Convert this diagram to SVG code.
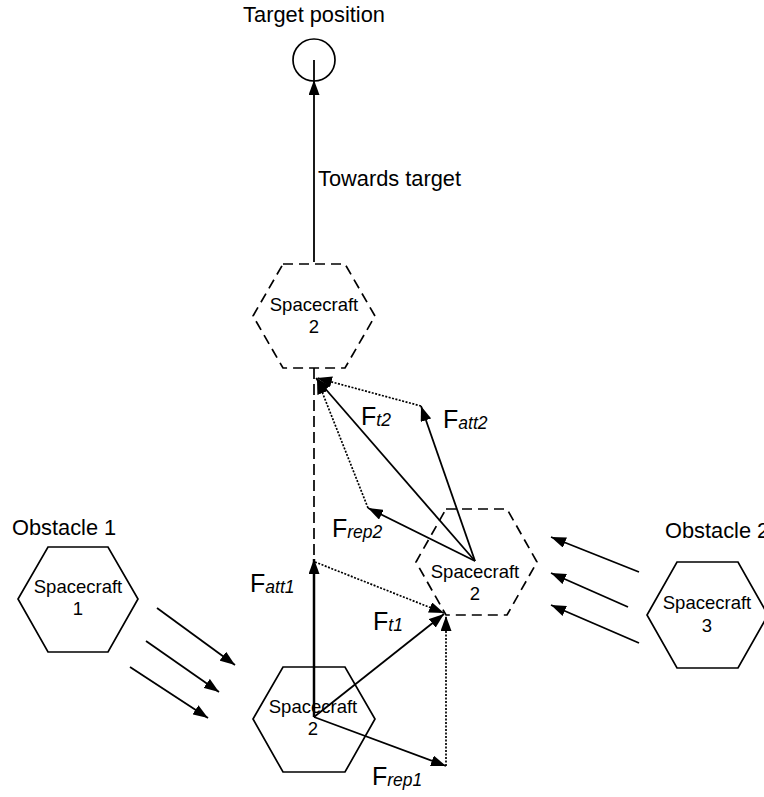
<svg xmlns="http://www.w3.org/2000/svg" width="764" height="797" viewBox="0 0 764 797">
<style>
text{font-family:"Liberation Sans",Arial,sans-serif;fill:#000}
.lbl{font-size:21.8px}
.sc{font-size:18.5px;text-anchor:middle}
.f{font-size:25px}
.sub{font-size:17.5px;font-style:italic}
.hex{fill:none;stroke:#000;stroke-width:1.7}
.dash{stroke-dasharray:10,6}
.ln{fill:none;stroke:#000;stroke-width:1.8}
.thick{stroke-width:2.5}
.dot{fill:none;stroke:#000;stroke-width:1.7;stroke-dasharray:2,1.5}
.vd{fill:none;stroke:#000;stroke-width:1.7;stroke-dasharray:11,5}
</style>
<defs>
<marker id="ah" markerUnits="userSpaceOnUse" markerWidth="16" markerHeight="11" refX="15" refY="5.5" orient="auto">
<path d="M0,0 L15,5.5 L0,11 z" fill="#000"/>
</marker>
</defs>
<rect width="764" height="797" fill="#fff"/>

<g id="target">
<circle cx="314" cy="60" r="21" fill="none" stroke="#000" stroke-width="1.7"/>
<text class="lbl" x="314" y="22" text-anchor="middle">Target position</text>
</g>

<g id="spacecraft2-top">
<polygon class="hex dash" points="283,264 345,264 375,316 345,368 283,368 253,316"/>
<text class="sc" x="314" y="311">Spacecraft</text>
<text class="sc" x="314" y="333">2</text>
</g>

<g id="spacecraft2-mid">
<polygon class="hex dash" points="446,509 507,509 537,562 507,615 446,615 416,562"/>
<text class="sc" x="475" y="578">Spacecraft</text>
<text class="sc" x="475" y="600">2</text>
</g>

<g id="spacecraft2-bottom">
<polygon class="hex" points="283,667 345,667 375,719 345,772 283,772 253,719"/>
<text class="sc" x="313" y="713">Spacecraft</text>
<text class="sc" x="313" y="735">2</text>
</g>

<g id="obstacle1">
<text class="lbl" x="12" y="535">Obstacle 1</text>
<polygon class="hex" points="48,547 108,547 138,599 108,652 48,652 18,599"/>
<text class="sc" x="78" y="593">Spacecraft</text>
<text class="sc" x="78" y="615">1</text>
</g>

<g id="obstacle2">
<text class="lbl" x="665" y="538">Obstacle 2</text>
<polygon class="hex" points="677,562 738,562 768,615 738,668 677,668 647,615"/>
<text class="sc" x="707" y="609">Spacecraft</text>
<text class="sc" x="707" y="632">3</text>
</g>

<g id="connectors">
<!-- towards target -->
<line class="ln" x1="314" y1="80" x2="314" y2="60"/>
<line class="ln" x1="314" y1="262" x2="314" y2="80" marker-end="url(#ah)"/>
<text class="lbl" x="318" y="186">Towards target</text>
<!-- dashed path -->
<line class="vd" x1="314" y1="368" x2="314" y2="560"/>
<!-- first step -->
<line class="ln thick" x1="314" y1="717" x2="314" y2="559" marker-end="url(#ah)"/>
<line class="ln" x1="314" y1="717" x2="444" y2="614" marker-end="url(#ah)"/>
<line class="ln" x1="314" y1="717" x2="446" y2="766" marker-end="url(#ah)"/>
<line class="dot" x1="315" y1="562" x2="444" y2="613" marker-end="url(#ah)"/>
<line class="dot" x1="446" y1="766" x2="446" y2="616" marker-end="url(#ah)"/>
<!-- second step -->
<line class="ln" x1="475" y1="561" x2="316" y2="378" marker-end="url(#ah)"/>
<line class="ln" x1="475" y1="561" x2="421" y2="406" marker-end="url(#ah)"/>
<line class="ln" x1="475" y1="561" x2="368" y2="508" marker-end="url(#ah)"/>
<line class="dot" x1="421" y1="406" x2="317" y2="378" marker-end="url(#ah)"/>
<line class="dot" x1="368" y1="508" x2="317" y2="379" marker-end="url(#ah)"/>
<!-- obstacle 1 repulsion -->
<line class="ln" x1="157" y1="608" x2="235" y2="665" marker-end="url(#ah)"/>
<line class="ln" x1="146" y1="641" x2="219" y2="692" marker-end="url(#ah)"/>
<line class="ln" x1="130" y1="667" x2="208" y2="718" marker-end="url(#ah)"/>
<!-- obstacle 2 repulsion -->
<line class="ln" x1="639" y1="572" x2="551" y2="537" marker-end="url(#ah)"/>
<line class="ln" x1="628" y1="607" x2="551" y2="573" marker-end="url(#ah)"/>
<line class="ln" x1="639" y1="643" x2="551" y2="605" marker-end="url(#ah)"/>
<!-- force labels -->
<text class="f" x="361" y="425">F<tspan class="sub" dy="1">t2</tspan></text>
<text class="f" x="443" y="428">F<tspan class="sub" dy="1">att2</tspan></text>
<text class="f" x="332" y="537">F<tspan class="sub" dy="1">rep2</tspan></text>
<text class="f" x="250" y="592">F<tspan class="sub" dy="1">att1</tspan></text>
<text class="f" x="373" y="630">F<tspan class="sub" dy="1">t1</tspan></text>
<text class="f" x="372" y="785">F<tspan class="sub" dy="1">rep1</tspan></text>
</g>
</svg>
